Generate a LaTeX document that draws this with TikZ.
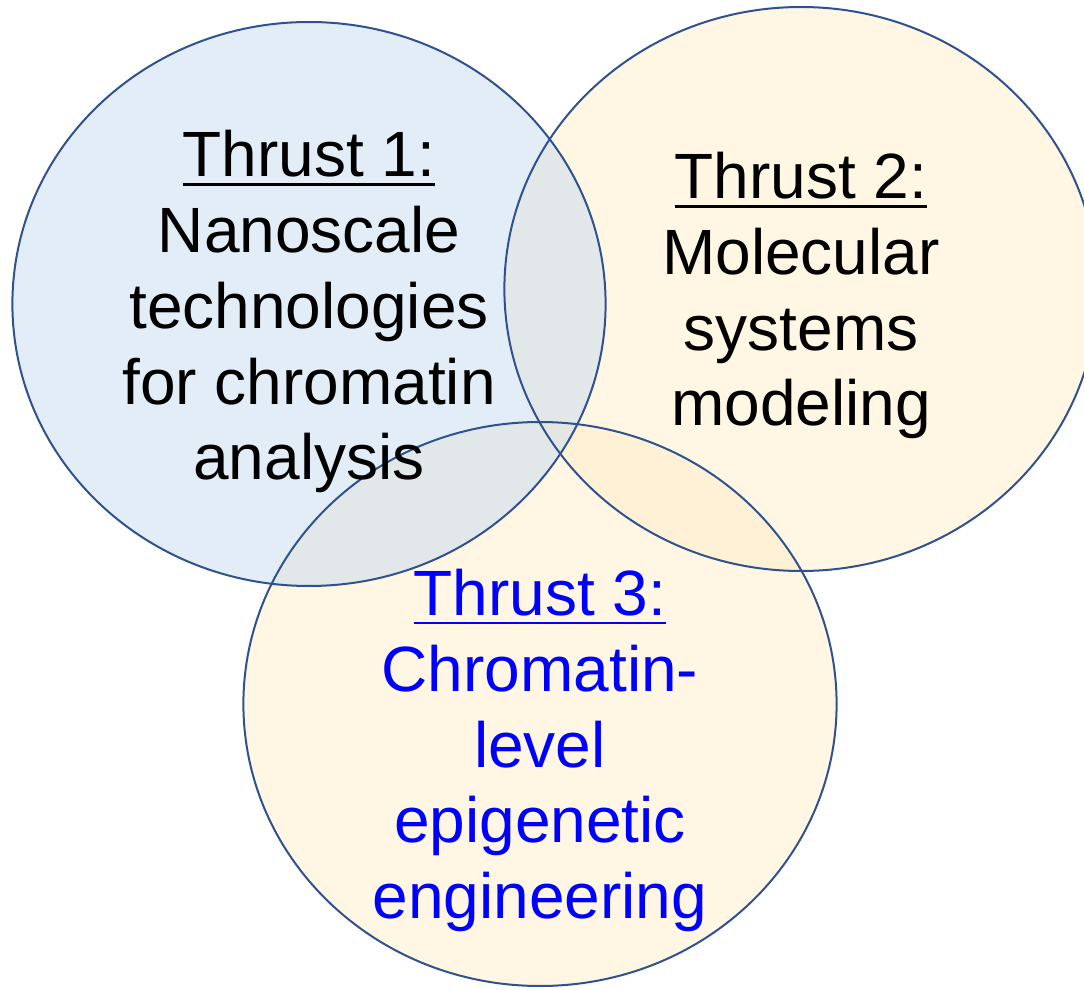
\documentclass[tikz,border=0pt]{standalone}
\usepackage{fontspec}
\setmainfont{Liberation Sans}
\usepackage{tikz}
\definecolor{rimblue}{HTML}{2F528F}
\definecolor{paleblue}{RGB}{199,220,239}
\definecolor{paleyellow}{RGB}{255,237,201}
\tikzset{region/.style = {fill opacity = 0.5}}
\tikzset{rim/.style = {draw = rimblue, line width = 1pt}}
\tikzset{thrusttext/.style = {align = center, inner sep = 0pt, anchor = base, font = \fontsize{32}{37.9}\selectfont}}
\newcommand{\thrustline}[1]{\setbox0\hbox{#1}\rlap{\rule[-4.5pt]{\wd0}{1.3pt}}\box0}

\begin{document}
\begin{tikzpicture}[x = 0.5pt, y = -0.5pt]
				\useasboundingbox (0, 0) rectangle (1084, 990);

				% fills
				\fill[region, paleyellow] (801, 289) ellipse [x radius = 296.6, y radius = 282];
				\fill[region, paleyellow] (540, 704) ellipse [x radius = 296.6, y radius = 282];
				\fill[region, paleblue] (309, 304) ellipse [x radius = 296.6, y radius = 282];

				% outlines
				\draw[rim] (309, 304) ellipse [x radius = 296.6, y radius = 282];
				\draw[rim] (801, 289) ellipse [x radius = 296.6, y radius = 282];
				\draw[rim] (540, 704) ellipse [x radius = 296.6, y radius = 282];

				% base anchor sits on the last line
				\node[thrusttext] (t1) at (309, 480) {\thrustline{Thrust 1:}\\Nanoscale\\technologies\\for chromatin\\analysis};
				\node[thrusttext] (t2) at (801, 426) {\thrustline{Thrust 2:}\\Molecular\\systems\\modeling};
				\node[thrusttext, text = blue] (t3) at (540, 918.6) {\thrustline{Thrust 3:}\\Chromatin-\\level\\epigenetic\\engineering};
			\end{tikzpicture}
\end{document}
